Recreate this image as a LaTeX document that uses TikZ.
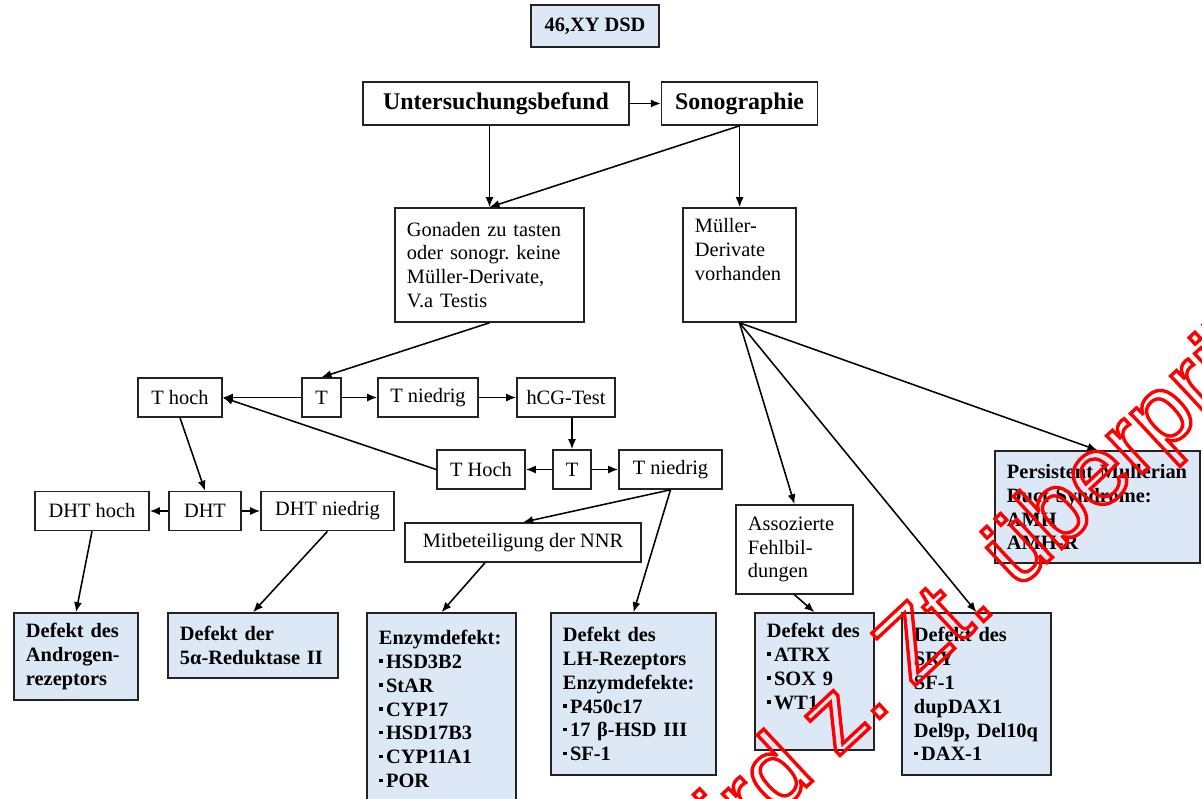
\documentclass[tikz,border=0pt]{standalone}
\usepackage{fontspec}
\setmainfont{Liberation Serif}
\newfontfamily\stampfont{Liberation Sans}
\usepackage{tikz}
\usetikzlibrary{positioning,arrows.meta,calc}
\definecolor{boxblue}{RGB}{220,232,246}
\definecolor{boxrule}{RGB}{35,35,35}
\newcommand{\bul}{\rule[0.27em]{0.18em}{0.18em}\,}
\frenchspacing
\tikzset{
  plainbox/.style={rectangle,draw=boxrule,line width=1.1pt,fill=white,align=left,inner xsep=0.3cm,inner ysep=0.2cm,font=\fontsize{14.5}{17}\selectfont},
  smallbox/.style={plainbox,align=center,inner xsep=0pt,minimum height=0.975cm},
  headbox/.style={plainbox,align=center,inner xsep=0pt,font=\fontsize{17}{20}\selectfont\bfseries},
  bluebox/.style={plainbox,fill=boxblue,font=\fontsize{14.5}{17}\selectfont\bfseries},
  edge/.style={-{Latex[length=2.5mm,width=2mm]},line width=1.1pt},
  stamp/.style={inner sep=0pt,text=red,font=\stampfont\fontsize{70}{70}\selectfont}
}

\begin{document}
\begin{tikzpicture}[x=0.025cm,y=-0.025cm]
  \useasboundingbox (0,0) rectangle (1202,798);
  \clip (0,0) rectangle (1202,798);

  % top row
  \node[headbox,fill=boxblue,font=\fontsize{14.5}{17}\selectfont\bfseries,minimum width=3.2cm,minimum height=1.05cm] (dsd) at (595,26) {46,XY DSD};
  \node[headbox,minimum width=6.65cm,minimum height=1.075cm] (unters) at (496,103.5) {Untersuchungsbefund};
  \node[headbox,minimum width=3.9cm,minimum height=1.075cm,right=0.775cm of unters] (sono) {Sonographie};

  \node[plainbox,text width=4.125cm,minimum height=2.85cm] (gonaden) at (489.5,265) {Gonaden zu tasten\\oder sonogr. keine\\Müller-Derivate,\\V.a Testis};
  \node[plainbox,text width=2.225cm,minimum height=2.85cm] (mueller) at (739.5,265) {Müller-\\Derivate\\vorhanden\\ \strut};

  % testosterone branch
  \node[smallbox,minimum width=2.1cm] (thoch) at (180,397.5) {T hoch};
  \node[smallbox,minimum width=0.975cm] (tone) at (321.5,397.5) {T};
  \node[smallbox,minimum width=2.5cm] (tniedone) at (428,397.5) {T niedrig};
  \node[smallbox,minimum width=2.45cm] (hcg) at (566,397.5) {hCG-Test};
  \node[smallbox,minimum width=2.2cm] (thochtwo) at (481,469.5) {T Hoch};
  \node[smallbox,minimum width=0.95cm] (ttwo) at (572,469.5) {T};
  \node[smallbox,minimum width=2.575cm] (tniedtwo) at (670.5,469.5) {T niedrig};

  \node[smallbox,minimum width=2.85cm] (dhthoch) at (92,511) {DHT hoch};
  \node[smallbox,minimum width=1.8cm] (dht) at (205,511) {DHT};
  \node[smallbox,minimum width=3.325cm] (dhtnied) at (327.5,511) {DHT niedrig};
  \node[smallbox,minimum width=5.9cm] (nnr) at (523,542.5) {Mitbeteiligung der NNR};

  \node[plainbox,text width=2.325cm,minimum height=2.225cm] (assoz) at (794.5,549.5) {Assozierte\\Fehlbil-\\dungen};
  \node[bluebox,text width=4.525cm,minimum height=2.8cm] (pmds) at (1097.5,507) {Persistent Mullerian\\Duct Syndrome:\\AMH\\AMH-R};

  % result boxes
  \node[bluebox,text width=2.5cm,minimum height=2.175cm] (andro) at (76,656.5) {Defekt des\\Androgen-\\rezeptors};
  \node[bluebox,text width=3.65cm,minimum height=1.625cm] (reduk) at (253,645.5) {Defekt der\\5α-Reduktase II};
  \node[bluebox,text width=3.125cm,minimum height=4.8cm] (enzym) at (441.5,709) {Enzymdefekt:\\\bul HSD3B2\\\bul StAR\\\bul CYP17\\\bul HSD17B3\\\bul CYP11A1\\\bul POR};
  \node[bluebox,text width=3.525cm,minimum height=4.05cm] (lh) at (633.5,694) {Defekt des\\LH-Rezeptors\\Enzymdefekte:\\\bul P450c17\\\bul 17 β-HSD III\\\bul SF-1};
  \node[bluebox,text width=2.375cm,minimum height=3.425cm] (atrx) at (814.5,681.5) {Defekt des\\\bul ATRX\\\bul SOX 9\\\bul WT1\\ \strut};
  \node[bluebox,text width=3.125cm,minimum height=4.05cm] (sry) at (976.5,694) {Defekt des\\SRY\\SF-1\\dupDAX1\\Del9p, Del10q\\\bul DAX-1};

  % connectors
  \draw[edge] (unters) -- (sono);
  \draw[edge] (unters.south -| gonaden.north) -- (gonaden.north);
  \draw[edge] (sono.south) -- (gonaden.north);
  \draw[edge] (sono.south) -- (sono.south |- mueller.north);
  \draw[edge] (gonaden.south) -- (tone.north);
  \draw[edge] (tone) -- (thoch);
  \draw[edge] (tone) -- (tniedone);
  \draw[edge] (tniedone) -- (hcg);
  \draw[edge] (hcg.south -| ttwo.north) -- (ttwo.north);
  \draw[edge] (ttwo) -- (thochtwo);
  \draw[edge] (ttwo) -- (tniedtwo);
  \draw[edge] (thochtwo.west) -- (thoch.east);
  \draw[edge] (thoch.south) -- (dht.north);
  \draw[edge] (dht) -- (dhthoch);
  \draw[edge] (dht) -- (dhtnied);
  \draw[edge] (dhthoch.south) -- (andro.north);
  \draw[edge] (dhtnied.south) -- (reduk.north);
  \draw[edge] (tniedtwo.south) -- (nnr.north);
  \draw[edge] (tniedtwo.south) -- (lh.north);
  \draw[edge] ($(nnr.south west)!0.34!(nnr.south east)$) -- (enzym.north);
  \draw[edge] (mueller.south) -- (assoz.north);
  \draw[edge] (mueller.south) -- (sry.north);
  \draw[edge] (mueller.south) -- (pmds.north);
  \draw[edge] (assoz.south) -- (atrx.north);

  % stamp on top
  \node[stamp,rotate=43,anchor=base west] (stamptext) at (685,900) {\special{pdf:literal direct 1 Tr 2.4 w}wird z. Zt. überprüft\special{pdf:literal direct 0 Tr}};
\end{tikzpicture}
\end{document}
